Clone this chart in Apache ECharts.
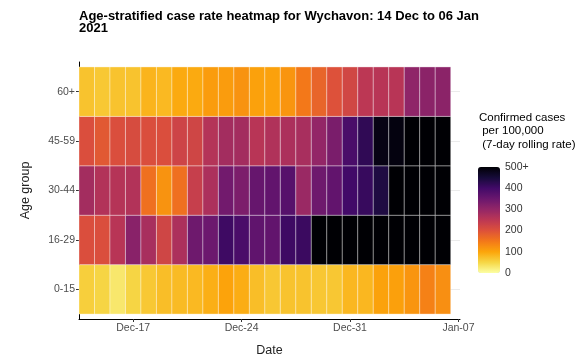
<!DOCTYPE html>
<html><head><meta charset="utf-8">
<script src="https://cdn.jsdelivr.net/npm/echarts@6/dist/echarts.min.js"></script>
<style>html,body{margin:0;padding:0;background:#fff}#c{width:585px;height:362px}</style>
</head><body><div id="c"></div><script>
// Dates (Dec 14 2020 .. Jan 06 2021)
const dates = ['2020-12-14','2020-12-15','2020-12-16','2020-12-17','2020-12-18','2020-12-19','2020-12-20','2020-12-21','2020-12-22','2020-12-23','2020-12-24','2020-12-25','2020-12-26','2020-12-27','2020-12-28','2020-12-29','2020-12-30','2020-12-31','2021-01-01','2021-01-02','2021-01-03','2021-01-04','2021-01-05','2021-01-06'];
const ageGroups = ['0-15','16-29','30-44','45-59','60+'];
const xTickDates = ['2020-12-17','2020-12-24','2020-12-31','2021-01-07'];
const legendTicks = [0,100,200,300,400,500];
// 7-day rolling case rate per 100,000 by age group
const rate_0_15  = [58,52,30,52,65,75,78,80,90,102,92,75,66,70,70,66,66,82,82,103,106,118,140,125];
const rate_16_29 = [205,205,255,312,275,222,270,345,347,405,390,362,360,405,408,510,540,570,600,620,640,650,660,650];
const rate_30_44 = [280,262,258,262,160,120,160,235,270,340,328,355,360,375,292,345,360,400,412,440,520,560,590,610];
const rate_45_59 = [205,190,205,210,205,205,225,222,260,280,280,255,265,270,275,300,330,390,420,485,490,530,560,580];
const rate_60p   = [70,65,70,70,85,80,95,95,110,110,120,105,105,118,150,175,200,220,250,255,255,305,310,310];
const seriesRates = [rate_0_15, rate_16_29, rate_30_44, rate_45_59, rate_60p];

const CAP = 500;
const MON = ['Jan','Feb','Mar','Apr','May','Jun','Jul','Aug','Sep','Oct','Nov','Dec'];
const base = new Date(dates[0] + 'T00:00:00Z');
function dayIndex(s){ return Math.round((new Date(s + 'T00:00:00Z') - base) / 86400000); }
function fmtDay(i){ const d = new Date(base.getTime() + i*86400000); return MON[d.getUTCMonth()] + '-' + String(d.getUTCDate()).padStart(2,'0'); }

const data = [];
seriesRates.forEach((arr, gi) => arr.forEach((v, di) => data.push([dayIndex(dates[di]), gi + 1, Math.min(v, CAP)])));

const inferno = ['#fcffa4','#f6d746','#fca50a','#f37819','#dd513a','#bc3754','#932667','#6a176e','#420a68','#160b39','#000004'];
const font = 'Liberation Sans, Arial, sans-serif';

const chart = echarts.init(document.getElementById('c'), null, {renderer:'canvas'});
chart.setOption({
  animation:false,
  backgroundColor:'#fff',
  title:{
    text:'Age-stratified case rate heatmap for Wychavon: 14 Dec to 06 Jan\n2021',
    left:79, top:10, padding:0,
    textStyle:{fontFamily:font, fontSize:13, fontWeight:'bold', color:'#000', lineHeight:12}
  },
  grid:[
    {left:79, top:62, width:381, height:260, containLabel:false},
    {left:478, top:167, width:22, height:106, containLabel:false}
  ],
  xAxis:[
    {type:'value', gridIndex:0, min:-0.5, max:24.1,
     name:'Date', nameLocation:'middle', nameGap:25,
     nameTextStyle:{fontFamily:font, fontSize:12.5, color:'#222'},
     axisLine:{show:true, onZero:false, lineStyle:{color:'#000', width:1}},
     axisTick:{show:true, length:3, lineStyle:{color:'#333'}, customValues: xTickDates.map(dayIndex)},
     axisLabel:{fontFamily:font, fontSize:10.5, color:'#4d4d4d', margin:4, customValues: xTickDates.map(dayIndex), formatter: v => fmtDay(v)},
     splitLine:{show:false}},
    {type:'value', gridIndex:1, min:0, max:1, show:false}
  ],
  yAxis:[
    {type:'value', gridIndex:0, min:0.4, max:5.6,
     name:'Age group', nameLocation:'middle', nameGap:47,
     nameTextStyle:{fontFamily:font, fontSize:12.5, color:'#222'},
     axisLine:{show:true, onZero:false, lineStyle:{color:'#000', width:1}},
     axisTick:{show:true, length:3, lineStyle:{color:'#333'}, customValues:[1,2,3,4,5]},
     axisLabel:{fontFamily:font, fontSize:10.5, color:'#4d4d4d', margin:4, customValues:[1,2,3,4,5], formatter: v => ageGroups[Math.round(v)-1] || ''},
     splitLine:{show:false}},
    {type:'value', gridIndex:1, min:0, max:CAP, position:'right',
     axisLine:{show:false, onZero:false},
     axisTick:{show:true, inside:true, length:4, lineStyle:{color:'rgba(255,255,255,0.8)'}, customValues: legendTicks},
     axisLabel:{fontFamily:font, fontSize:10.5, color:'#333', margin:5, customValues: legendTicks, formatter: v => v >= CAP ? CAP + '+' : String(v)},
     splitLine:{show:false}},
    {type:'value', gridIndex:1, min:0, max:CAP, position:'left',
     axisLine:{show:false, onZero:false},
     axisTick:{show:true, inside:true, length:4, lineStyle:{color:'rgba(255,255,255,0.8)'}, customValues: legendTicks},
     axisLabel:{show:false}, splitLine:{show:false}}
  ],
  graphic:[{
    type:'text', left:479, top:111,
    style:{text:'Confirmed cases\n per 100,000\n (7-day rolling rate)', fontFamily:font, fontSize:11.5, fill:'#000', lineHeight:13.5}
  }],
  visualMap:{
    type:'continuous', min:0, max:CAP, dimension:2, seriesIndex:0,
    left:478, top:167, itemWidth:22, itemHeight:106, padding:0,
    calculable:false, realtime:false, text:null, showLabel:false,
    inRange:{color:inferno}, z:1
  },
  series:[
    {type:'custom', xAxisIndex:0, yAxisIndex:0, data:data, encode:{x:0, y:1},
     renderItem:function(params, api){
       const x = api.value(0), y = api.value(1);
       const p0 = api.coord([x-0.5, y+0.5]);
       const p1 = api.coord([x+0.5, y-0.5]);
       return {type:'rect', shape:{x:p0[0], y:p0[1], width:p1[0]-p0[0], height:p1[1]-p0[1]},
               style:{fill:api.visual('color'), stroke:'rgba(255,255,255,0.35)', lineWidth:1}};
     }},
    {type:'line', xAxisIndex:0, yAxisIndex:0, data:[], silent:true,
     markLine:{silent:true, symbol:'none', label:{show:false}, lineStyle:{color:'#ebebeb', width:1, type:'solid'},
       data:[1,2,3,4,5].map(v => ({yAxis:v})), z:0}, z:0}
  ]
});
</script></body></html>
